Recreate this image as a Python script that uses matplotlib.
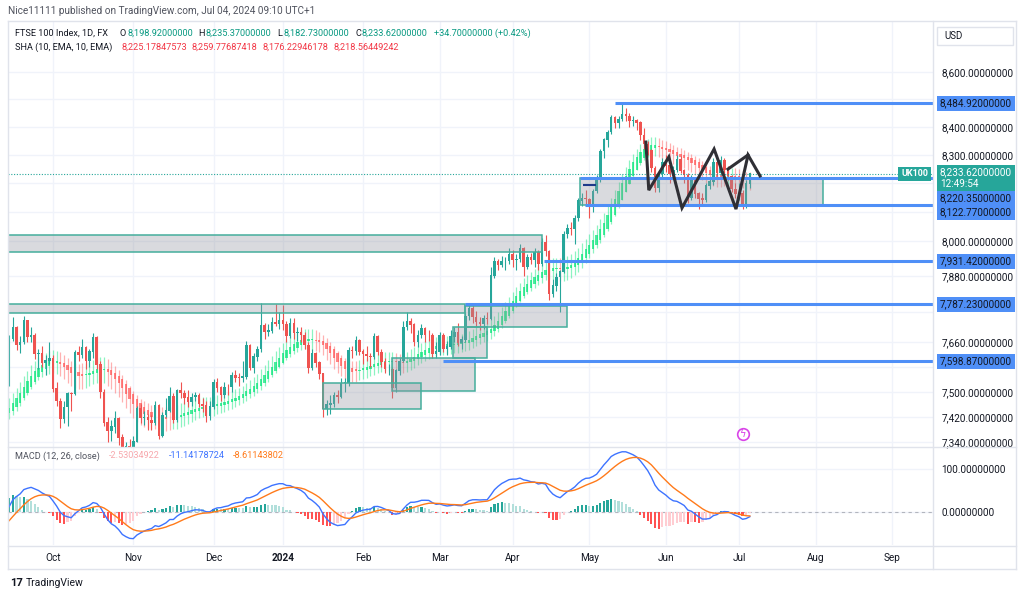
import numpy as np
import matplotlib
matplotlib.use('Agg')
import matplotlib.pyplot as plt
from matplotlib.patches import Rectangle
from matplotlib.lines import Line2D
from matplotlib.transforms import blended_transform_factory

plt.rcParams['font.family'] = ['Roboto', 'DejaVu Sans']

W, H = 1024, 597

# warm-up bars (27 Jul - 13 Sep 2023), only used for the indicators
pre_opens = [7676,7693,7694,7699,7666,7562,7529,7564,7554,7527,7587,7618,7524,7507,7389,7357,7310,
             7262,7257,7270,7320,7333,7338,7465,7473,7439,7464,7453,7437,7426,7442,7478,7496,7527]
pre_highs = [7730,7712,7712,7702,7668,7578,7590,7574,7557,7595,7640,7620,7535,7520,7405,7370,7320,
             7290,7316,7328,7365,7350,7475,7495,7480,7505,7475,7470,7450,7462,7490,7512,7535,7540]
pre_lows = [7670,7672,7672,7640,7548,7490,7525,7522,7478,7522,7580,7505,7470,7384,7340,7290,7228,
            7238,7250,7252,7310,7300,7330,7452,7425,7435,7440,7415,7405,7390,7435,7470,7480,7495]
pre_closes = [7693,7694,7699,7666,7562,7529,7564,7554,7527,7587,7618,7524,7507,7389,7357,7310,7262,
              7257,7270,7320,7333,7338,7465,7473,7439,7464,7453,7437,7426,7442,7478,7496,7527,7525]

# shown bars, 14 Sep 2023 - 4 Jul 2024 (one row per month)
opens = [
    7525,7673,7711,7652,7660,7731,7678,7684,7624,7625,7594,7601,
    7608,7510,7470,7412,7451,7494,7492,7628,7620,7644,7599,7630,7675,7588,7499,7402,7374,7389,7414,7354,7291,7327,
    7322,7342,7446,7417,7417,7410,7402,7455,7360,7426,7440,7486,7410,7504,7496,7481,7469,7483,7488,7461,7455,7423,
    7453,7529,7513,7490,7515,7514,7554,7545,7543,7548,7649,7576,7614,7638,7715,7694,7698,7725,7722,
    7733,7721,7682,7723,7690,7694,7683,7651,7576,7625,7594,7558,7446,7459,7462,7487,7485,7527,7529,7635,7633,7666,
    7630,7622,7615,7612,7681,7628,7595,7573,7573,7512,7568,7598,7711,7728,7719,7662,7684,7706,7684,7683,7624,
    7630,7682,7640,7646,7679,7692,7659,7669,7747,7772,7743,7727,7722,7738,7737,7882,7930,7917,7931,7931,
    7953,7935,7937,7975,7911,7943,7934,7961,7923,7996,7965,7820,7848,7877,7896,8024,8044,8041,8079,8139,8147,
    8144,8121,8172,8213,8313,8354,8381,8433,8414,8428,8445,8439,8420,8424,8416,8370,8339,8317,8254,8183,8231,
    8275,8262,8232,8246,8285,8245,8228,8148,8215,8163,8146,8142,8192,8205,8272,8237,8281,8247,8225,8180,
    8164,8166,8121,8198.92]
highs = [
    7685,7745,7715,7680,7747,7735,7710,7690,7640,7650,7620,7660,
    7620,7530,7480,7470,7500,7500,7635,7650,7670,7650,7640,7690,7680,7600,7510,7420,7410,7440,7420,7365,7340,7350,
    7360,7455,7460,7440,7430,7425,7470,7460,7435,7480,7515,7495,7510,7530,7505,7505,7495,7500,7495,7480,7470,7470,
    7540,7545,7520,7530,7525,7565,7570,7560,7600,7665,7655,7625,7650,7790,7725,7720,7745,7788,7760,
    7785,7730,7740,7740,7710,7710,7695,7660,7640,7630,7600,7560,7475,7490,7500,7505,7545,7545,7645,7650,7680,7670,
    7640,7650,7625,7690,7685,7640,7610,7590,7580,7575,7610,7730,7760,7740,7725,7700,7720,7710,7700,7690,7660,
    7695,7690,7665,7700,7710,7725,7680,7760,7790,7785,7765,7745,7750,7760,7910,7945,7940,7950,7945,7975,
    7970,7955,7990,7980,7955,7960,7975,7970,8010,8020,7970,7870,7890,7900,8035,8060,8065,8090,8150,8165,8175,
    8150,8180,8230,8320,8360,8390,8445,8440,8440,8485,8470,8450,8440,8430,8420,8395,8350,8320,8260,8240,8290,
    8300,8265,8260,8300,8295,8250,8235,8230,8220,8170,8165,8200,8215,8290,8280,8295,8290,8260,8230,8200,
    8200,8175,8210,8235.37]
lows = [
    7520,7665,7635,7625,7655,7660,7660,7605,7575,7580,7555,7590,
    7500,7455,7385,7400,7390,7440,7490,7600,7610,7575,7580,7610,7575,7480,7390,7340,7345,7370,7330,7270,7265,7300,
    7300,7340,7400,7395,7380,7380,7395,7350,7355,7420,7435,7400,7405,7480,7460,7450,7455,7470,7450,7435,7405,7410,
    7445,7500,7470,7480,7490,7500,7530,7520,7530,7540,7570,7560,7600,7630,7670,7680,7690,7715,7705,
    7700,7660,7675,7670,7665,7660,7640,7560,7570,7580,7540,7420,7425,7430,7450,7465,7480,7500,7520,7610,7620,7620,
    7590,7600,7580,7605,7620,7580,7560,7555,7480,7500,7555,7595,7700,7690,7650,7645,7675,7660,7665,7610,7610,
    7620,7630,7620,7640,7660,7650,7640,7660,7735,7725,7710,7700,7705,7720,7735,7875,7900,7910,7900,7920,
    7910,7900,7930,7880,7905,7920,7910,7900,7915,7950,7800,7810,7830,7760,7890,8010,8020,7990,8070,8120,8120,
    8080,8100,8165,8205,8290,8330,8375,8395,8395,8420,8420,8400,8405,8390,8355,8320,8300,8240,8170,8170,8215,
    8240,8200,8215,8240,8235,8200,8130,8140,8150,8110,8120,8135,8180,8195,8225,8230,8235,8210,8170,8150,
    8140,8110,8115,8182.73]
closes = [
    7673,7711,7652,7660,7731,7678,7684,7624,7625,7594,7601,7608,
    7510,7470,7412,7451,7494,7492,7628,7620,7644,7599,7630,7675,7588,7499,7402,7374,7389,7414,7354,7291,7327,7322,
    7342,7446,7417,7417,7410,7402,7455,7360,7426,7440,7486,7410,7504,7496,7481,7469,7483,7488,7461,7455,7423,7453,
    7529,7513,7490,7515,7514,7554,7545,7543,7548,7649,7576,7614,7638,7715,7694,7698,7725,7722,7733,
    7721,7682,7723,7690,7694,7683,7651,7576,7625,7594,7558,7446,7459,7462,7487,7485,7527,7529,7635,7633,7666,7630,
    7622,7615,7612,7681,7628,7595,7573,7573,7512,7568,7598,7711,7728,7719,7662,7684,7706,7684,7683,7624,7630,
    7682,7640,7646,7679,7692,7659,7669,7747,7772,7743,7727,7722,7738,7737,7882,7930,7917,7931,7931,7953,
    7935,7937,7975,7911,7943,7934,7961,7923,7996,7965,7820,7848,7877,7896,8024,8044,8041,8079,8139,8147,8144,
    8121,8172,8213,8313,8354,8381,8433,8414,8428,8445,8439,8420,8424,8416,8370,8339,8317,8254,8183,8231,8275,
    8262,8232,8246,8285,8245,8228,8148,8215,8163,8146,8142,8192,8205,8272,8237,8281,8247,8225,8180,8164,
    8166,8121,8198.92,8233.62]

month_pos = [12, 34, 56, 75, 97, 118, 138, 159, 180, 200, 221, 242]
month_labels = ['Oct', 'Nov', 'Dec', '2024', 'Feb', 'Mar', 'Apr', 'May', 'Jun', 'Jul', 'Aug', 'Sep']
price_ticks = [7340, 7420, 7500, 7580, 7660, 7760, 7880, 8000, 8100, 8200, 8300, 8400, 8500, 8600]
hidden_ticks = [7580, 7760, 8100, 8200, 8500]   # covered by the level labels

# drawings: (first bar, last bar, low, high)
zones = [(-5, 146, 7962, 8020), (-5, 125, 7757, 7787), (125, 152.9, 7711, 7780),
         (121.6, 131, 7609, 7711), (104.9, 127.6, 7502, 7609), (86, 112.8, 7444, 7528),
         (156.4, 223, 8123, 8220)]
ray_start = [166, 156.4, 157.8, 146.6, 125, 118.9]
ray_level = [8484.92, 8220.35, 8122.77, 7931.42, 7787.23, 7598.87]
label_shift = [0, -21, -7, 0, 0, 0]   # px, labels pushed apart on the price scale
zig_x = [174.5, 175.3, 180.8, 184.4, 193.2, 199.2, 202.5, 205.8]
zig_y = [8346, 8176, 8293, 8114, 8321, 8110, 8300, 8226]
zig2_x = [197.0, 202.5]
zig2_y = [8250, 8300]

UP, DOWN = '#26A69A', '#EF5350'
TXT = '#131722'
GRID = '#F0F3FA'
BLUE = '#4F8FF7'


def ema(vals, n):
    a = 2.0 / (n + 1)
    out = [vals[0]]
    for v in vals[1:]:
        out.append(a * v + (1 - a) * out[-1])
    return np.array(out)


all_o = np.array(pre_opens + opens, float)
all_h = np.array(pre_highs + highs, float)
all_l = np.array(pre_lows + lows, float)
all_c = np.array(pre_closes + closes, float)
n0 = len(pre_closes)

# smoothed heikin ashi (10, EMA, 10, EMA)
so, sh, sl, sc = ema(all_o, 10), ema(all_h, 10), ema(all_l, 10), ema(all_c, 10)
hac = (so + sh + sl + sc) / 4
hao = np.zeros_like(hac)
hao[0] = (so[0] + sc[0]) / 2
for i in range(1, len(hac)):
    hao[i] = (hao[i - 1] + hac[i - 1]) / 2
hah = np.maximum(sh, np.maximum(hao, hac))
hal = np.minimum(sl, np.minimum(hao, hac))
sha_o, sha_h, sha_l, sha_c = [ema(a, 10)[n0:] for a in (hao, hah, hal, hac)]

# MACD 12/26/9
macd = ema(all_c, 12) - ema(all_c, 26)
signal = ema(macd, 9)
hist = macd - signal
macd, signal, hist_prev, hist = macd[n0:], signal[n0:], hist[n0 - 1:-1], hist[n0:]

o = np.array(opens, float)
hi = np.array(highs, float)
lo = np.array(lows, float)
c = np.array(closes, float)
x = np.arange(len(c))

fig = plt.figure(figsize=(W / 100, H / 100), dpi=100)
fig.patch.set_facecolor('white')


def fx(px):
    return px / W


def fy(py):
    return 1 - py / H


ax = fig.add_axes([fx(8), fy(447), fx(925), (447 - 22) / H])
ax2 = fig.add_axes([fx(8), fy(545), fx(925), (545 - 447) / H])
xmin, xmax = -0.33, 253.2

# ---- main pane
ax.set_yscale('log')
ax.set_xlim(xmin, xmax)
ax.set_ylim(7325, 8786)
for s in ax.spines.values():
    s.set_visible(False)
ax.set_xticks(month_pos)
ax.set_xticklabels([])
ax.tick_params(axis='x', length=0)
ax.yaxis.tick_right()
ax.set_yticks(price_ticks)
ax.set_yticklabels(['' if v in hidden_ticks else f'{v:,.8f}' for v in price_ticks])
ax.yaxis.set_minor_locator(matplotlib.ticker.NullLocator())
ax.tick_params(axis='y', length=0, pad=6, labelsize=7.2, labelcolor=TXT)
ax.grid(True, color=GRID, lw=1, zorder=0)
ax.set_axisbelow(True)

# smoothed heikin ashi
sha_col = np.where(sha_c >= sha_o, '#00E676', '#FF5252')
ax.vlines(x, sha_l, sha_h, colors=sha_col, lw=0.9, alpha=0.45, zorder=1)
ax.bar(x, np.abs(sha_c - sha_o) + 1.5, bottom=np.minimum(sha_o, sha_c), width=0.62,
       color=sha_col, alpha=0.7, lw=0, zorder=1)

# price candles
col = np.where(c >= o, UP, DOWN)
ax.vlines(x, lo, hi, colors=col, lw=0.8, zorder=2)
ax.bar(x, np.abs(c - o) + 1.5, bottom=np.minimum(o, c), width=0.7, color=col, lw=0, zorder=2)

# zones
for x0, x1, p0, p1 in zones:
    ax.add_patch(Rectangle((x0, p0), x1 - x0, p1 - p0, facecolor=(0.58, 0.59, 0.63, 0.35),
                           edgecolor='#45AE9C', lw=1.1, zorder=3))

for xs, lv in zip(ray_start, ray_level):
    ax.hlines(lv, xs, xmax, color=BLUE, lw=2.2, zorder=4)
ax.hlines(8194, 157.3, 160.8, color='#1E3A8A', lw=1.5, zorder=4)

ax.plot(zig_x, zig_y, color='#2F2F35', lw=2.2, zorder=5, solid_joinstyle='miter')
ax.plot(zig2_x, zig2_y, color='#2F2F35', lw=2.2, zorder=5)

ax.axhline(8233.62, color=UP, lw=0.8, ls=(0, (1, 1.5)), zorder=4)

ax.scatter([201], [7366], s=70, facecolors='white', edgecolors='#D945E8', lw=1.2, zorder=6)
ax.text(201, 7366, 'ϟ', color='#D945E8', ha='center', va='center', fontsize=7, zorder=7,
        family='DejaVu Sans')

# right axis labels
btr = blended_transform_factory(ax.transAxes, ax.transData)
lx = (940 - 8) / 925
for lv, dy in zip(ray_level, label_shift):
    ax.annotate(f'{lv:,.8f}', xy=(lx, lv), xycoords=btr, xytext=(0, dy * 0.72),
                textcoords='offset points', fontsize=7.2, color=TXT, va='center', ha='left',
                annotation_clip=False, zorder=10,
                bbox=dict(boxstyle='square,pad=0.25', fc=BLUE, ec='none'))
ax.annotate('8,233.62000000\n12:49:54', xy=(lx, 8233.62), xycoords=btr, xytext=(0, 4.6),
            textcoords='offset points', fontsize=7.2, color='white', va='top', ha='left',
            linespacing=1.15, annotation_clip=False, zorder=11,
            bbox=dict(boxstyle='square,pad=0.25', fc=UP, ec='none'))
ax.text((901 - 8) / 925, 8233.62, 'UK100', transform=btr, fontsize=6.5, color='white',
        fontweight='bold', va='center', ha='left', clip_on=False, zorder=11,
        bbox=dict(boxstyle='square,pad=0.3', fc=UP, ec='none'))

# ---- MACD pane
ax2.set_xlim(xmin, xmax)
ax2.set_ylim(-77, 151)
for s in ax2.spines.values():
    s.set_visible(False)
hcol = []
for hp, hv in zip(hist_prev, hist):
    if hv >= 0:
        hcol.append('#26A69A' if hv > hp else '#B2DFDB')
    else:
        hcol.append('#FFCDD2' if hv > hp else '#FF5252')
ax2.bar(x, hist, width=0.6, color=hcol, lw=0, zorder=2)
ax2.axhline(0, color='#B2B5BE', lw=0.8, ls=(0, (3, 3)), zorder=1)
ax2.plot(x, macd, color='#3D73FF', lw=1.0, zorder=3)
ax2.plot(x, signal, color='#FF7A1A', lw=1.0, zorder=3)
ax2.set_xticks(month_pos)
ax2.set_xticklabels(month_labels)
for t in ax2.get_xticklabels():
    if t.get_text() == '2024':
        t.set_fontweight('bold')
ax2.tick_params(axis='x', length=0, pad=6, labelsize=7.2, labelcolor=TXT)
ax2.yaxis.tick_right()
ax2.set_yticks([0, 100])
ax2.set_yticklabels(['0.00000000', '100.00000000'])
ax2.tick_params(axis='y', length=0, pad=6, labelsize=7.2, labelcolor=TXT)
ax2.grid(True, color=GRID, lw=1, zorder=0)
ax2.set_axisbelow(True)

# ---- frame and separators
FR = '#E0E3EB'
for (x0, y0, x1, y1) in [(8, 21, 1016, 21), (8, 569, 1016, 569), (8, 21, 8, 569), (1016, 21, 1016, 569),
                         (933, 21, 933, 569), (8, 447, 1016, 447), (8, 546, 1016, 546)]:
    fig.add_artist(Line2D([fx(x0), fx(x1)], [fy(y0), fy(y1)], color=FR, lw=1))
fig.add_artist(Rectangle((fx(937), fy(45)), fx(76), 18 / H, facecolor='white', edgecolor=FR, lw=1))
fig.text(fx(944), fy(36), 'USD', fontsize=7, color=TXT, va='center')

# ---- header texts: (text, colour, left edge in px)
G = '#089981'
R = '#F23645'
legend_rows = [
    (33, [('FTSE 100 Index, 1D, FX', TXT, 15), ('O', TXT, 120), ('8,198.92000000', G, 128),
          ('H', TXT, 198), ('8,235.37000000', G, 205), ('L', TXT, 277), ('8,182.73000000', G, 283),
          ('C', TXT, 355), ('8,233.62000000', G, 362), ('+34.70000000 (+0.42%)', G, 434)]),
    (456, [('MACD (12, 26, close)', '#50535E', 15), ('-2.53034922', '#F7A8AD', 109),
           ('-11.14178724', '#3D73FF', 169), ('-8.61143802', '#FF7A1A', 233)]),
]
for yy, parts in legend_rows:
    for s, cc, xx in parts:
        fig.text(fx(xx), fy(yy), s, color=cc, fontsize=6.6, va='center', ha='left')

# SHA values are laid one after another (they are wider than in the reference font)
rend = fig.canvas.get_renderer()
sha_row = [('SHA (10, EMA, 10, EMA)', TXT), ('8,225.17847573', R), ('8,259.77687418', R),
           ('8,176.22946178', R), ('8,218.56449242', R)]
xx = 15
for s, cc in sha_row:
    t = fig.text(fx(max(xx, 121) if s[0] == '8' and xx < 121 else xx), fy(47), s, color=cc,
                 fontsize=6.6, va='center', ha='left')
    xx = t.get_window_extent(rend).x1 + 5

fig.text(fx(8), fy(11), 'Nice11111 published on TradingView.com, Jul 04, 2024 09:10 UTC+1',
         fontsize=7.2, color='#50535E', va='center')
fig.text(fx(10), fy(583), '17', fontsize=8, color=TXT, va='center', fontweight='bold')
fig.text(fx(26), fy(583), 'TradingView', fontsize=7.5, color=TXT, va='center')

fig.savefig('out.png', dpi=100)
